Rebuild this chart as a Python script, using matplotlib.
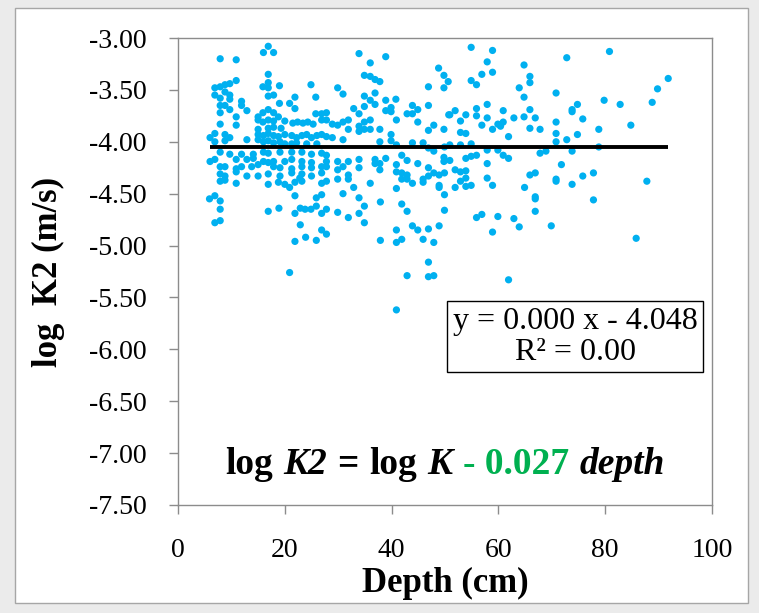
import matplotlib
matplotlib.use("Agg")
import matplotlib.pyplot as plt
from matplotlib.patches import Rectangle
from matplotlib.ticker import FuncFormatter

plt.rcParams["font.family"] = ["Liberation Serif", "DejaVu Serif"]

# Shallow samples (depth up to ~27 cm)
depth_shallow = [
    16.9, 16.0, 17.9, 7.9, 10.9, 16.9, 10.9, 16.9, 9.7, 8.8, 6.9, 7.9, 15.9, 19.0, 24.9, 16.9,
    8.8, 17.9, 16.9, 6.9, 9.7, 21.9, 25.8, 7.9, 9.7, 11.9, 19.0, 20.9, 7.9, 8.8, 11.9, 21.9,
    9.7, 16.9, 12.9, 17.9, 15.9, 7.9, 25.8, 10.9, 15.0, 18.8,
    16.9, 17.9, 15.9, 15.0, 20.0, 21.5, 22.4, 23.4, 24.3, 25.3, 7.9, 10.9, 16.9, 17.9, 19.3, 15.0,
    6.0, 6.9, 8.8, 9.7,
    15.0, 16.0, 16.9, 17.9, 18.8, 20.0, 21.3, 22.2, 23.2, 24.1, 25.0, 26.0,
    6.9, 8.8, 12.9, 15.0, 16.0, 16.9, 17.9, 19.1, 20.0, 21.3, 22.2, 24.1, 26.0,
    7.9, 9.7, 11.9, 14.1, 16.0, 16.9, 19.1, 21.3, 23.2, 25.0, 26.9,
    6.0, 6.9, 10.9, 12.9, 14.1, 16.0, 16.9, 17.9, 20.0, 21.3, 23.2, 25.0,
    7.9, 8.8, 10.9, 11.9, 13.8, 15.0, 17.9, 19.1, 21.3, 23.2, 25.0, 26.9,
    7.9, 12.9, 15.0, 16.9, 19.1, 21.3, 23.2, 25.0, 8.8, 10.9, 22.8,
    7.9, 8.8, 10.9, 16.9, 18.8, 20.0, 21.9, 23.2,
    20.9, 26.9, 21.9, 25.9, 26.9, 5.9, 6.9, 7.9, 7.9, 16.9, 18.9, 21.9, 22.9, 23.8, 24.9, 25.9,
    26.9, 6.9, 7.9, 22.9, 26.9, 21.9, 23.9, 25.9, 20.9,
]
logk2_shallow = [
    -3.08, -3.14, -3.14, -3.20, -3.21, -3.35, -3.41, -3.43, -3.44, -3.45, -3.48, -3.47, -3.47, -3.46, -3.45, -3.48,
    -3.52, -3.55, -3.56, -3.55, -3.55, -3.57, -3.57, -3.58, -3.59, -3.61, -3.63, -3.63, -3.65, -3.65, -3.65, -3.68,
    -3.69, -3.69, -3.70, -3.72, -3.72, -3.72, -3.73, -3.76, -3.76, -3.76,
    -3.79, -3.80, -3.81, -3.79, -3.80, -3.82, -3.81, -3.82, -3.81, -3.83, -3.83, -3.84, -3.87, -3.86, -3.87, -3.88,
    -3.96, -3.92, -3.93, -3.96,
    -3.93, -3.94, -3.92, -3.94, -3.95, -3.93, -3.94, -3.96, -3.94, -3.93, -3.96, -3.94,
    -4.00, -3.99, -3.98, -3.98, -4.00, -3.99, -4.01, -4.00, -4.02, -4.02, -4.01, -4.02, -4.02,
    -4.10, -4.12, -4.12, -4.12, -4.10, -4.11, -4.10, -4.10, -4.10, -4.12, -4.11,
    -4.19, -4.17, -4.17, -4.17, -4.16, -4.19, -4.20, -4.19, -4.19, -4.17, -4.19, -4.20,
    -4.24, -4.24, -4.26, -4.24, -4.24, -4.22, -4.24, -4.25, -4.26, -4.24, -4.25, -4.24,
    -4.31, -4.33, -4.33, -4.31, -4.33, -4.30, -4.31, -4.33, -4.33, -4.29, -4.35,
    -4.38, -4.37, -4.40, -4.41, -4.39, -4.41, -4.39, -4.38,
    -4.44, -4.40, -4.52, -4.54, -4.51, -4.55, -4.52, -4.57, -4.65, -4.67, -4.64, -4.69, -4.64, -4.65, -4.65, -4.62,
    -4.69, -4.78, -4.76, -4.80, -4.85, -4.96, -4.92, -4.95, -5.26,
]

# Middle samples (~27-50 cm)
depth_middle = [
    33.9, 36.0, 38.9, 34.9, 36.0, 36.9, 37.8, 48.8, 49.8, 50.6, 29.9, 30.9, 46.9, 49.8, 36.9, 34.9,
    36.0, 36.9, 38.9, 40.8, 32.9, 34.9, 33.9, 38.9, 39.9, 39.9, 43.9, 44.9, 42.9, 43.9, 46.9, 50.7,
    26.9, 27.8, 27.8, 26.9, 28.9, 29.9, 30.9, 31.9, 31.9, 33.9, 34.9, 36.0, 33.9, 34.9, 36.0, 37.8,
    40.9, 44.9, 47.9, 49.8, 46.9,
    26.9, 27.8, 28.9, 30.9, 39.9, 39.9, 37.8, 40.9, 43.9, 45.9, 46.9, 47.9, 49.9,
    27.8, 27.8, 27.8, 29.9, 29.9, 30.9, 31.9, 33.9, 33.9, 36.9, 36.9, 37.8, 37.8, 38.9, 40.9, 41.9,
    42.9, 44.9, 46.9, 47.9, 49.8, 49.8,
    26.9, 29.9, 31.9, 31.9, 36.0, 40.9, 41.9, 42.9, 41.9, 42.9, 43.9, 45.9, 46.9, 48.9, 49.9,
    45.9, 48.9, 48.9, 27.8,
    30.9, 32.9, 40.9, 49.9, 33.9, 34.9, 37.9, 41.9, 42.9, 27.8, 29.9, 31.9, 33.9, 34.9, 49.9, 27.8,
    40.9, 37.9, 40.9, 41.9, 43.9, 44.9, 46.9, 48.9, 45.9, 47.9, 46.9, 42.9, 46.9, 47.9, 40.9,
]
logk2_middle = [
    -3.15, -3.24, -3.18, -3.36, -3.37, -3.40, -3.42, -3.29, -3.36, -3.42, -3.48, -3.54, -3.47, -3.48, -3.53, -3.56,
    -3.60, -3.64, -3.60, -3.59, -3.68, -3.66, -3.73, -3.70, -3.67, -3.71, -3.65, -3.69, -3.73, -3.73, -3.65, -3.74,
    -3.73, -3.72, -3.79, -3.79, -3.83, -3.84, -3.81, -3.79, -3.88, -3.85, -3.81, -3.79, -3.90, -3.88, -3.88, -3.88,
    -3.79, -3.81, -3.84, -3.88, -3.89,
    -3.93, -3.95, -3.96, -3.98, -3.93, -3.99, -4.00, -4.03, -4.01, -4.01, -4.06, -4.09, -4.05,
    -4.13, -4.19, -4.24, -4.19, -4.27, -4.24, -4.19, -4.17, -4.25, -4.17, -4.21, -4.21, -4.27, -4.16, -4.22, -4.13,
    -4.18, -4.21, -4.25, -4.30, -4.15, -4.19,
    -4.30, -4.36, -4.32, -4.36, -4.40, -4.29, -4.30, -4.32, -4.36, -4.36, -4.40, -4.36, -4.33, -4.32, -4.30,
    -4.39, -4.42, -4.44, -4.38,
    -4.50, -4.44, -4.45, -4.51, -4.54, -4.62, -4.58, -4.60, -4.67, -4.65, -4.68, -4.73, -4.69, -4.78, -4.66, -4.89,
    -4.85, -4.95, -4.97, -4.94, -4.81, -4.85, -4.84, -4.81, -4.94, -4.97, -5.16, -5.29, -5.30, -5.29, -5.62,
]

# Deep samples (~50-92 cm)
depth_deep = [
    54.9, 58.9, 57.9, 72.8, 64.8, 56.9, 58.9, 54.9, 55.9, 65.9, 65.9, 63.9, 64.8, 70.8, 57.9, 55.9,
    51.9, 50.9, 53.9, 55.9, 57.9, 60.9, 62.9, 64.8, 65.9, 66.9,
    52.9, 56.9, 59.9, 60.9, 60.4, 58.9, 65.9, 67.8, 70.8, 73.8, 73.8,
    52.9, 53.9, 61.9, 70.8, 70.8, 72.8,
    50.9, 52.9, 54.9,
    54.9, 53.9, 55.9, 57.9, 59.9, 60.9, 61.9, 67.8, 68.9, 73.8,
    50.9, 57.9, 71.8, 51.9, 52.9, 53.9, 65.9, 66.9,
    52.9, 53.9, 57.9, 70.8, 70.8,
    51.9, 53.9, 54.9, 58.9, 64.9, 73.8, 66.9, 66.9, 66.9,
    55.9, 56.9, 59.9, 62.9, 63.9, 69.9, 58.9, 61.9,
    80.8, 91.8, 89.8, 79.8, 82.8, 88.8, 74.8, 75.8, 84.8, 78.8, 74.8, 78.8, 75.8, 77.8, 87.8, 77.8,
    85.8,
]
logk2_deep = [
    -3.09, -3.12, -3.23, -3.19, -3.26, -3.35, -3.33, -3.41, -3.45, -3.37, -3.43, -3.48, -3.57, -3.53, -3.64, -3.68,
    -3.70, -3.74, -3.74, -3.75, -3.77, -3.70, -3.77, -3.76, -3.69, -3.77,
    -3.80, -3.84, -3.83, -3.81, -3.85, -3.88, -3.87, -3.88, -3.81, -3.69, -3.71,
    -3.91, -3.92, -3.95, -3.92, -4.00, -3.98,
    -4.03, -4.03, -4.02,
    -4.14, -4.16, -4.13, -4.08, -4.08, -4.13, -4.16, -4.11, -4.09, -4.09,
    -4.18, -4.21, -4.22, -4.27, -4.29, -4.28, -4.32, -4.30,
    -4.38, -4.35, -4.35, -4.36, -4.38,
    -4.44, -4.43, -4.42, -4.42, -4.44, -4.41, -4.53, -4.55, -4.67,
    -4.73, -4.70, -4.72, -4.74, -4.82, -4.81, -4.87, -5.33,
    -3.13, -3.39, -3.49, -3.60, -3.64, -3.62, -3.64, -3.78, -3.84, -3.88, -3.93, -4.05, -4.33, -4.30, -4.38, -4.56,
    -4.93,
]

# Linear trend reported for the data set
trend_slope = 0.000
trend_intercept = -4.048
r_squared = 0.00
depth_coefficient = 0.027

x_ticks = [0, 20, 40, 60, 80, 100]
y_ticks = [-3.0, -3.5, -4.0, -4.5, -5.0, -5.5, -6.0, -6.5, -7.0, -7.5]

W, H = 759, 613
fig = plt.figure(figsize=(W / 100, H / 100), dpi=100, facecolor="#EBEBEB")
fig.patches.append(Rectangle((15 / W, 1 - 603 / H), (748 - 15) / W, (603 - 8) / H,
                             transform=fig.transFigure, facecolor="white",
                             edgecolor="#A6A6A6", linewidth=1.0, zorder=-5))

ax = fig.add_axes([178 / W, 1 - 505 / H, 534 / W, 467 / H])
ax.set_zorder(2)
ax.set_facecolor("white")

depths = depth_shallow + depth_middle + depth_deep
logk2 = logk2_shallow + logk2_middle + logk2_deep
ax.scatter(depths, logk2, s=27, color="#00B0F0", edgecolors="none", zorder=3)

x0, x1 = min(depths), max(depths)
ax.plot([x0, x1], [trend_slope * x0 + trend_intercept, trend_slope * x1 + trend_intercept],
        color="black", linewidth=2.8, solid_capstyle="butt", zorder=4)

ax.set_xlim(0, 100)
ax.set_ylim(-7.5, -3.0)
ax.set_xticks(x_ticks)
ax.set_yticks(y_ticks)
ax.yaxis.set_major_formatter(FuncFormatter(lambda v, p: f"{v:.2f}"))
ax.xaxis.set_major_formatter(FuncFormatter(lambda v, p: f"{v:.0f}"))

spine_color = "#8C8C8C"
for s in ax.spines.values():
    s.set_color(spine_color)
    s.set_linewidth(1.0)
ax.tick_params(axis="both", direction="out", length=6.5, width=1.0, color=spine_color,
               labelsize=20, labelcolor="black")
ax.tick_params(axis="y", pad=16)
ax.tick_params(axis="x", pad=17)

ax.set_xlabel("Depth (cm)", fontsize=25, fontweight="bold", labelpad=3)
ax.set_ylabel("log  K2 (m/s)", fontsize=25, fontweight="bold", labelpad=17)

# Trend-line equation box
ax.text(0.744, 0.360,
        f"y = {trend_slope:.3f} x - {abs(trend_intercept):.3f}\nR² = {r_squared:.2f}",
        transform=ax.transAxes, ha="center", va="center", fontsize=23,
        multialignment="center", linespacing=1.1, zorder=5,
        bbox=dict(boxstyle="square,pad=0.17", facecolor="white", edgecolor="black", linewidth=1.0))

# Depth-correction formula, drawn piece by piece
pieces = [
    ("log", "normal", "black", 0),
    ("K2", "italic", "black", 7.5),
    ("=", "normal", "black", 7.5),
    ("log", "normal", "black", 7.5),
    ("K", "italic", "black", 7.5),
    (f"- {depth_coefficient:.3f}", "normal", "#00B050", 7.5),
    ("depth", "italic", "black", 7.5),
]
eq_size = 27
eq_y = 0.050
first = ax.text(0.075, eq_y, pieces[0][0], transform=ax.transAxes, fontsize=eq_size,
                fontweight="bold", fontstyle=pieces[0][1], color=pieces[0][2],
                ha="left", va="bottom", zorder=5)
artists = [first]
prev = first
for txt, style, col, gap in pieces[1:]:
    a = ax.annotate(txt, xy=(1, 0), xycoords=prev, xytext=(gap, 0), textcoords="offset points",
                    fontsize=eq_size, fontweight="bold", fontstyle=style, color=col,
                    ha="left", va="bottom", zorder=5)
    artists.append(a)
    prev = a

fig.canvas.draw()
r = fig.canvas.get_renderer()
left = artists[0].get_window_extent(r).x0
right = artists[-1].get_window_extent(r).x1
ax_bb = ax.get_window_extent(r)
center_px = 445.0
shift = center_px - (left + right) / 2
first.set_position((0.075 + shift / ax_bb.width, eq_y))

fig.savefig("out.png", dpi=100, facecolor=fig.get_facecolor())
